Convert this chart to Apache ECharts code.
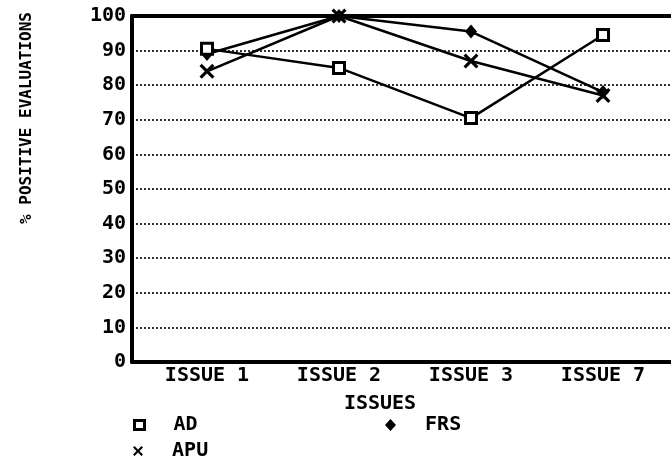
<!DOCTYPE html>
<html>
<head>
<meta charset="utf-8">
<script src="https://cdn.jsdelivr.net/npm/echarts@6/dist/echarts.min.js"></script>
<style>html,body{margin:0;padding:0;background:#fff;overflow:hidden;}#c{width:671px;height:469px;}</style>
</head>
<body>
<div id="c"></div>
<script>
var categories = ['ISSUE 1', 'ISSUE 2', 'ISSUE 3', 'ISSUE 7'];
var adValues = [90.5, 85, 70.5, 94.5];
var frsValues = [89, 100, 95.5, 78];
var apuValues = [84, 100, 87, 77];
var yTicks = [0, 10, 20, 30, 40, 50, 60, 70, 80, 90, 100];

var FONT = '"DejaVu Sans Mono", monospace';
var xPath = 'path://M0,1.5L1.5,0L5,3.5L8.5,0L10,1.5L6.5,5L10,8.5L8.5,10L5,6.5L1.5,10L0,8.5L3.5,5Z';

function pts(vals) { return vals.map(function (v, i) { return [i, v]; }); }

var gridLeft = 132, gridRight = 0, pxPerCat = 132, firstCenter = 207;
var chartW = 671;
var xMin = -(firstCenter - gridLeft) / pxPerCat;
var xMax = xMin + (chartW - gridRight - gridLeft) / pxPerCat;

var chart = echarts.init(document.getElementById('c'), null, {renderer: 'canvas'});
var lbl = {color: '#000', fontFamily: FONT, fontWeight: 'bold', fontSize: 20};
chart.setOption({
  animation: false,
  backgroundColor: '#fff',
  grid: {left: gridLeft, right: gridRight, top: 16, bottom: 469 - 362},
  xAxis: [{
    type: 'value', min: xMin, max: xMax,
    name: 'ISSUES', nameLocation: 'middle', nameGap: 32,
    nameTextStyle: {color: '#000', fontFamily: FONT, fontWeight: 'bold', fontSize: 20, padding: [0, 43, 0, 0]},
    axisLine: {show: true, onZero: false, lineStyle: {color: '#000', width: 4}},
    axisTick: {show: false},
    splitLine: {show: false},
    axisLabel: Object.assign({customValues: [0, 1, 2, 3], margin: 4, formatter: function (v) { return categories[Math.round(v)]; }}, lbl)
  }, {
    type: 'value', min: xMin, max: xMax, position: 'top',
    axisLine: {show: true, onZero: false, lineStyle: {color: '#000', width: 4}},
    axisTick: {show: false}, axisLabel: {show: false}, splitLine: {show: false}
  }],
  yAxis: {
    type: 'value', min: 0, max: 100, interval: 10,
    name: '% POSITIVE EVALUATIONS', nameLocation: 'middle', nameGap: 97,
    nameTextStyle: {color: '#000', fontFamily: FONT, fontWeight: 'bold', fontSize: 16, padding: [0, 0, 0, 142]},
    axisLine: {show: true, onZero: false, lineStyle: {color: '#000', width: 4}},
    axisTick: {show: false},
    splitLine: {show: true, lineStyle: {color: '#000', width: 1.6, type: [2, 2]}},
    axisLabel: Object.assign({margin: 6, formatter: function (v) { return yTicks.indexOf(v) >= 0 ? String(v) : ''; }}, lbl)
  },
  legend: [
    {left: 128, top: 410, data: [{name: 'AD', icon: 'rect', itemStyle: {color: '#fff', borderColor: '#000', borderWidth: 3}}], itemWidth: 10, itemHeight: 9,
     formatter: function (n) { return '  ' + n; }, textStyle: lbl},
    {left: 380, top: 410, data: [{name: 'FRS', icon: 'diamond', itemStyle: {color: '#000'}}], itemWidth: 11, itemHeight: 12,
     formatter: function (n) { return '  ' + n; }, textStyle: lbl},
    {left: 128, top: 436, data: [{name: 'APU', icon: xPath, itemStyle: {color: '#000'}}], itemWidth: 10, itemHeight: 10,
     formatter: function (n) { return '  ' + n; }, textStyle: lbl}
  ],
  series: [
    {name: 'AD', type: 'line', data: pts(adValues), symbol: 'rect', symbolSize: 11, showAllSymbol: true,
     itemStyle: {color: '#fff', borderColor: '#000', borderWidth: 3}, lineStyle: {color: '#000', width: 2.5}, z: 3},
    {name: 'FRS', type: 'line', data: pts(frsValues), symbol: 'diamond', symbolSize: [12, 14],
     itemStyle: {color: '#000'}, lineStyle: {color: '#000', width: 2.5}, z: 2},
    {name: 'APU', type: 'line', data: pts(apuValues), symbol: xPath, symbolSize: 15,
     itemStyle: {color: '#000'}, lineStyle: {color: '#000', width: 2.5}, z: 4}
  ]
});
</script>
</body>
</html>
